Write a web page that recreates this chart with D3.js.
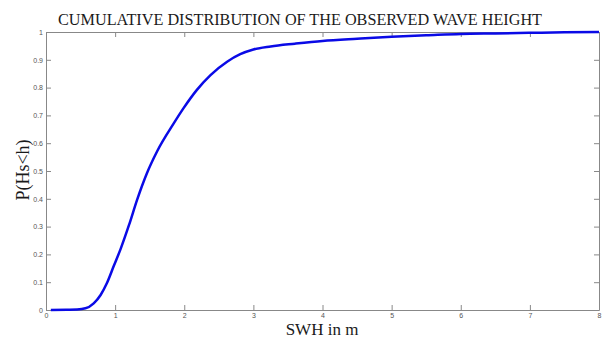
<!DOCTYPE html>
<html>
<head>
<meta charset="utf-8">
<script src="https://cdn.jsdelivr.net/npm/d3@7"></script>
<style>
  body { margin: 0; background: #fff; }
  svg { display: block; }
  .tick text { font-family: "Liberation Sans", Arial, sans-serif; font-size: 7px; fill: #555; }
  .tick line, .domain { stroke: #888; }
</style>
</head>
<body>
<svg id="chart"></svg>
<script>
'use strict';

// wave height (m) and cumulative probability
var swh = [0.07, 0.3, 0.45, 0.57, 0.69, 0.79, 0.88, 0.98, 1.08, 1.2, 1.32, 1.46, 1.61,
           1.85, 1.99, 2.18, 2.38, 2.62, 2.81, 3.0, 3.25, 3.6, 4.0, 4.5, 5.0, 5.5, 6.0, 6.5,
           7.0, 7.5, 8.0];
var cdf = [0.0, 0.001, 0.002, 0.006, 0.024, 0.054, 0.096, 0.158, 0.22, 0.305, 0.398, 0.492, 0.572,
           0.672, 0.726, 0.791, 0.845, 0.893, 0.92, 0.937, 0.948, 0.958, 0.968, 0.976, 0.983, 0.988, 0.993, 0.995,
           0.997, 0.999, 1.0];

var xTicks = [0, 1, 2, 3, 4, 5, 6, 7, 8];
var yTicks = [0, 0.1, 0.2, 0.3, 0.4, 0.5, 0.6, 0.7, 0.8, 0.9, 1];

var title = "CUMULATIVE DISTRIBUTION OF THE OBSERVED WAVE HEIGHT";
var xLabel = "SWH in m";
var yLabel = "P(Hs<h)";

function show_chart() {
    var width = 606,
        height = 338,
        margin = {top: 32, right: 7, bottom: 28, left: 46},
        w = width - margin.left - margin.right,
        h = height - margin.top - margin.bottom;

    var x = d3.scaleLinear().domain([0, 8]).range([0, w]);
    var y = d3.scaleLinear().domain([0, 1]).range([h, 0]);

    var svg = d3.select("#chart")
                .attr("width", width)
                .attr("height", height);

    var g = svg.append("g")
               .attr("transform", "translate(" + margin.left + "," + margin.top + ")");

    // bottom + top
    g.append("g")
        .attr("transform", "translate(0," + h + ")")
        .call(d3.axisBottom(x).tickValues(xTicks).tickSizeInner(-5).tickSizeOuter(0).tickPadding(3)
                .tickFormat(d3.format("d")));
    g.append("g")
        .call(d3.axisTop(x).tickValues(xTicks).tickSizeInner(-5).tickSizeOuter(0).tickFormat(""));

    // left + right
    g.append("g")
        .call(d3.axisLeft(y).tickValues(yTicks).tickSizeInner(-5).tickSizeOuter(0).tickPadding(3)
                .tickFormat(function(d) { return String(d); }));
    g.append("g")
        .attr("transform", "translate(" + w + ",0)")
        .call(d3.axisRight(y).tickValues(yTicks).tickSizeInner(-5).tickSizeOuter(0).tickFormat(""));

    var points = swh.map(function(d, i) { return [d, cdf[i]]; });

    var line = d3.line()
                 .x(function(d) { return x(d[0]); })
                 .y(function(d) { return y(d[1]); })
                 .curve(d3.curveMonotoneX);

    g.append("path")
        .datum(points)
        .attr("d", line)
        .attr("fill", "none")
        .attr("stroke", "#0a0ae6")
        .attr("stroke-width", 2.5)
        .attr("stroke-linejoin", "round");

    svg.append("text")
        .attr("x", 300)
        .attr("y", 25)
        .attr("text-anchor", "middle")
        .attr("textLength", 484)
        .attr("lengthAdjust", "spacingAndGlyphs")
        .style("font-family", "'Liberation Serif', 'Times New Roman', serif")
        .style("font-size", "17px")
        .style("fill", "#1a1a1a")
        .text(title);

    svg.append("text")
        .attr("x", 322)
        .attr("y", 335)
        .attr("text-anchor", "middle")
        .style("font-family", "'Liberation Serif', 'Times New Roman', serif")
        .style("font-size", "17px")
        .style("fill", "#1a1a1a")
        .text(xLabel);

    svg.append("text")
        .attr("transform", "translate(29,170) rotate(-90)")
        .attr("text-anchor", "middle")
        .style("font-family", "'Liberation Serif', 'Times New Roman', serif")
        .style("font-size", "18px")
        .style("fill", "#1a1a1a")
        .text(yLabel);
}

show_chart();
</script>
</body>
</html>
